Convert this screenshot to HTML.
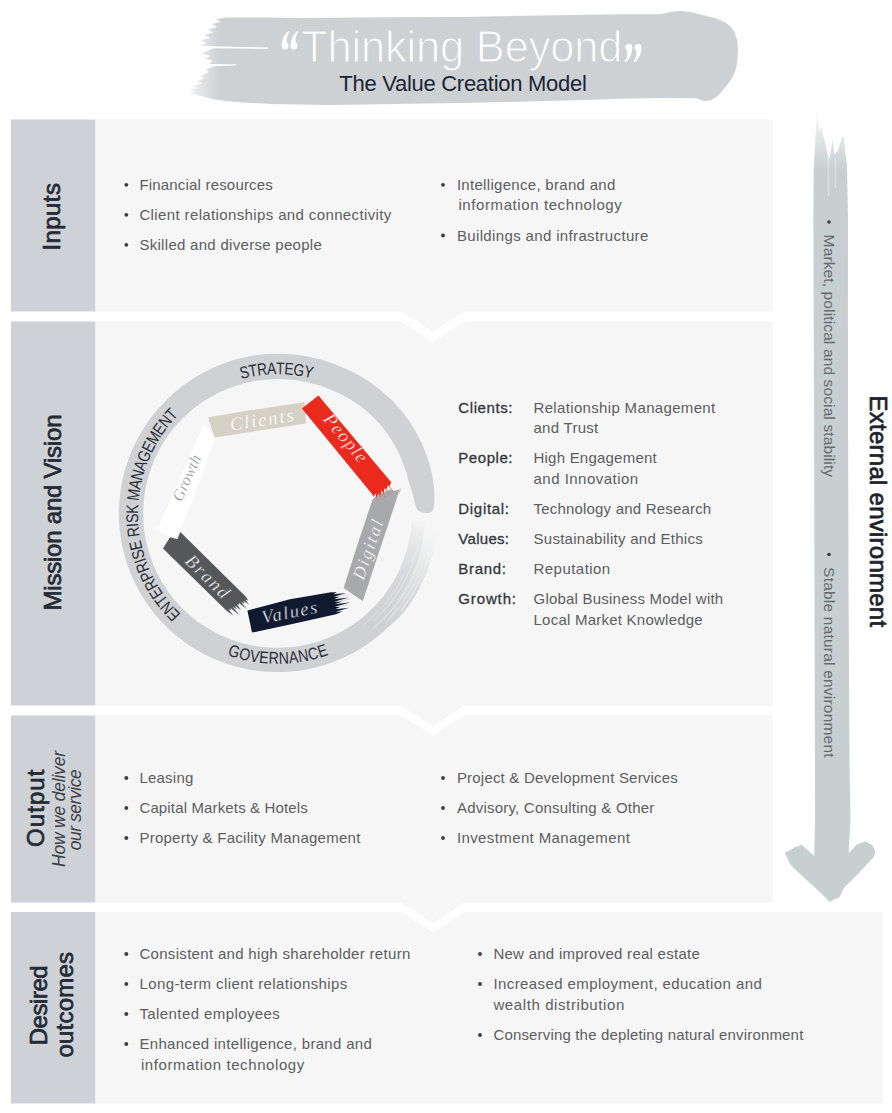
<!DOCTYPE html>
<html><head><meta charset="utf-8"><title>The Value Creation Model</title>
<style>
html,body{margin:0;padding:0;background:#fff;}
body{width:892px;height:1113px;overflow:hidden;font-family:"Liberation Sans",sans-serif;}
svg{display:block;}
svg text{font-family:"Liberation Sans",sans-serif;}
svg text.sf{font-family:"Liberation Serif",serif;}
</style></head><body>
<svg width="892" height="1113" viewBox="0 0 892 1113">
<rect width="892" height="1113" fill="#ffffff"/>
<rect x="11" y="119.5" width="84.5" height="192.0" fill="#ced2d6"/>
<polygon fill="#f6f6f6" points="95.5,119.5 772.5,119.5 772.5,311.5 464.5,311.5 433,332.0 401.5,311.5 95.5,311.5"/>
<rect x="11" y="321.5" width="84.5" height="384.0" fill="#ced2d6"/>
<polygon fill="#f6f6f6" points="95.5,321.5 401.5,321.5 433,342.0 464.5,321.5 772.5,321.5 772.5,705.5 464.5,705.5 433,726.0 401.5,705.5 95.5,705.5"/>
<rect x="11" y="715.5" width="84.5" height="187.0" fill="#ced2d6"/>
<polygon fill="#f6f6f6" points="95.5,715.5 401.5,715.5 433,736.0 464.5,715.5 772.5,715.5 772.5,902.5 464.5,902.5 433,923.0 401.5,902.5 95.5,902.5"/>
<rect x="11" y="912" width="84.5" height="191.5" fill="#ced2d6"/>
<polygon fill="#f6f6f6" points="95.5,912 401.5,912 433,932.5 464.5,912 883,912 883,1103.5 95.5,1103.5"/>
<circle cx="126.3" cy="184.8" r="1.9" fill="#3a3b3f"/>
<text x="139.4" y="189.8" font-size="15" fill="#5c5d61" textLength="133.4" lengthAdjust="spacing" >Financial resources</text>
<circle cx="126.3" cy="214.8" r="1.9" fill="#3a3b3f"/>
<text x="139.4" y="219.8" font-size="15" fill="#5c5d61" textLength="251.9" lengthAdjust="spacing" >Client relationships and connectivity</text>
<circle cx="126.3" cy="244.8" r="1.9" fill="#3a3b3f"/>
<text x="139.4" y="249.8" font-size="15" fill="#5c5d61" textLength="182.4" lengthAdjust="spacing" >Skilled and diverse people</text>
<circle cx="443" cy="184.8" r="1.9" fill="#3a3b3f"/>
<text x="456.9" y="189.8" font-size="15" fill="#5c5d61" textLength="158.4" lengthAdjust="spacing" >Intelligence, brand and</text>
<text x="458.4" y="210.4" font-size="15" fill="#5c5d61" textLength="163.4" lengthAdjust="spacing" >information technology</text>
<circle cx="443" cy="235.5" r="1.9" fill="#3a3b3f"/>
<text x="456.9" y="240.5" font-size="15" fill="#5c5d61" textLength="191.4" lengthAdjust="spacing" >Buildings and infrastructure</text>
<circle cx="126.3" cy="778" r="1.9" fill="#3a3b3f"/>
<text x="139.4" y="783.0" font-size="15" fill="#5c5d61" textLength="53.9" lengthAdjust="spacing" >Leasing</text>
<circle cx="126.3" cy="808" r="1.9" fill="#3a3b3f"/>
<text x="139.4" y="813.0" font-size="15" fill="#5c5d61" textLength="168.4" lengthAdjust="spacing" >Capital Markets &amp; Hotels</text>
<circle cx="126.3" cy="838" r="1.9" fill="#3a3b3f"/>
<text x="139.4" y="843.0" font-size="15" fill="#5c5d61" textLength="220.9" lengthAdjust="spacing" >Property &amp; Facility Management</text>
<circle cx="443" cy="778" r="1.9" fill="#3a3b3f"/>
<text x="456.9" y="783.0" font-size="15" fill="#5c5d61" textLength="220.9" lengthAdjust="spacing" >Project &amp; Development Services</text>
<circle cx="443" cy="808" r="1.9" fill="#3a3b3f"/>
<text x="456.9" y="813.0" font-size="15" fill="#5c5d61" textLength="197.4" lengthAdjust="spacing" >Advisory, Consulting &amp; Other</text>
<circle cx="443" cy="838" r="1.9" fill="#3a3b3f"/>
<text x="456.9" y="843.0" font-size="15" fill="#5c5d61" textLength="172.9" lengthAdjust="spacing" >Investment Management</text>
<circle cx="126.3" cy="954" r="1.9" fill="#3a3b3f"/>
<text x="139.4" y="959.0" font-size="15" fill="#5c5d61" textLength="270.9" lengthAdjust="spacing" >Consistent and high shareholder return</text>
<circle cx="126.3" cy="984" r="1.9" fill="#3a3b3f"/>
<text x="139.4" y="989.0" font-size="15" fill="#5c5d61" textLength="207.9" lengthAdjust="spacing" >Long-term client relationships</text>
<circle cx="126.3" cy="1014" r="1.9" fill="#3a3b3f"/>
<text x="139.4" y="1019.0" font-size="15" fill="#5c5d61" textLength="140.4" lengthAdjust="spacing" >Talented employees</text>
<circle cx="126.3" cy="1044" r="1.9" fill="#3a3b3f"/>
<text x="139.4" y="1049.0" font-size="15" fill="#5c5d61" textLength="232.4" lengthAdjust="spacing" >Enhanced intelligence, brand and</text>
<text x="140.9" y="1069.6" font-size="15" fill="#5c5d61" textLength="163.4" lengthAdjust="spacing" >information technology</text>
<circle cx="480" cy="954" r="1.9" fill="#3a3b3f"/>
<text x="493.4" y="959.0" font-size="15" fill="#5c5d61" textLength="206.4" lengthAdjust="spacing" >New and improved real estate</text>
<circle cx="480" cy="984" r="1.9" fill="#3a3b3f"/>
<text x="493.4" y="989.0" font-size="15" fill="#5c5d61" textLength="268.4" lengthAdjust="spacing" >Increased employment, education and</text>
<text x="493.4" y="1009.6" font-size="15" fill="#5c5d61" textLength="130.9" lengthAdjust="spacing" >wealth distribution</text>
<circle cx="480" cy="1035" r="1.9" fill="#3a3b3f"/>
<text x="493.4" y="1040.0" font-size="15" fill="#5c5d61" textLength="309.9" lengthAdjust="spacing" >Conserving the depleting natural environment</text>
<text x="458.3" y="412.5" font-size="15" fill="#33363c" textLength="54.2" lengthAdjust="spacing" stroke="#33363c" stroke-width="0.3">Clients:</text>
<text x="533.5" y="412.5" font-size="15" fill="#5c5d61" textLength="181.7" lengthAdjust="spacing" >Relationship Management</text>
<text x="533.5" y="433.1" font-size="15" fill="#5c5d61" textLength="64.7" lengthAdjust="spacing" >and Trust</text>
<text x="458.3" y="463" font-size="15" fill="#33363c" textLength="54.2" lengthAdjust="spacing" stroke="#33363c" stroke-width="0.3">People:</text>
<text x="533.5" y="463.0" font-size="15" fill="#5c5d61" textLength="123.2" lengthAdjust="spacing" >High Engagement</text>
<text x="533.5" y="483.6" font-size="15" fill="#5c5d61" textLength="104.7" lengthAdjust="spacing" >and Innovation</text>
<text x="458.3" y="514" font-size="15" fill="#33363c" textLength="50.7" lengthAdjust="spacing" stroke="#33363c" stroke-width="0.3">Digital:</text>
<text x="533.5" y="514.0" font-size="15" fill="#5c5d61" textLength="177.7" lengthAdjust="spacing" >Technology and Research</text>
<text x="458.3" y="544" font-size="15" fill="#33363c" textLength="50.7" lengthAdjust="spacing" stroke="#33363c" stroke-width="0.3">Values:</text>
<text x="533.5" y="544.0" font-size="15" fill="#5c5d61" textLength="169.2" lengthAdjust="spacing" >Sustainability and Ethics</text>
<text x="458.3" y="574" font-size="15" fill="#33363c" textLength="47.7" lengthAdjust="spacing" stroke="#33363c" stroke-width="0.3">Brand:</text>
<text x="533.5" y="574.0" font-size="15" fill="#5c5d61" textLength="76.7" lengthAdjust="spacing" >Reputation</text>
<text x="458.3" y="604" font-size="15" fill="#33363c" textLength="57.7" lengthAdjust="spacing" stroke="#33363c" stroke-width="0.3">Growth:</text>
<text x="533.5" y="604.0" font-size="15" fill="#5c5d61" textLength="189.7" lengthAdjust="spacing" >Global Business Model with</text>
<text x="533.5" y="624.6" font-size="15" fill="#5c5d61" textLength="169.2" lengthAdjust="spacing" >Local Market Knowledge</text>
<polygon fill="#ced1d4" points="225,17.6 270,17.4 300,17.9 380,17.3 460,16.9 540,15.6 620,14.3 659,14.3 665,13.2 672,11.7 681,10.8 692,12.4 704,15.2 716,18.6 725.6,22.4 731,27 734.5,32.3 737,40 738,48.4 737.6,58 736.3,68 733,76 729,82.5 723,90 716.6,96.9 711,100 705.8,101.3 701,100.2 696.9,98.3 660,98 620,98.7 600,99.5 540,101.2 460,103 380,104.2 330,105 270,104 240,102.3 225,101 212,99 205,97 190,93.5 196,91 188,90.2 199,88 193,86.3 202,83.5 197,81.5 204,78 200,76 209,72 206,69.5 214,66.2 236,65.2 236,64.2 209,64 213,61 205,58.5 211,56 202,53.5 208,50.5 213,48.2 268,48.8 268,47.6 212,46.3 200,45.5 207,43 201,40.5 210,38 204,35 213,32.5 208,29.5 217,27 212,24 221,21.5 216,19.5"/>
<text x="301" y="62.2" font-size="43.5" fill="#ffffff" textLength="321.5" lengthAdjust="spacing" stroke="#ced1d4" stroke-width="1.1" paint-order="fill stroke">Thinking Beyond</text>
<path d="M0.1 15.2 C0 8.4 2.7 3.2 7 0 L7.9 1.1 C5.4 4 4.6 7.6 5.3 11.4 C7.2 12.4 7.6 15 6.4 16.9 C4.6 19.5 0.3 18.8 0.1 15.2 Z" fill="#ffffff" transform="translate(281.6 31)"/>
<path d="M0.1 15.2 C0 8.4 2.7 3.2 7 0 L7.9 1.1 C5.4 4 4.6 7.6 5.3 11.4 C7.2 12.4 7.6 15 6.4 16.9 C4.6 19.5 0.3 18.8 0.1 15.2 Z" fill="#ffffff" transform="translate(290.5 31)"/>
<path d="M0.1 15.2 C0 8.4 2.7 3.2 7 0 L7.9 1.1 C5.4 4 4.6 7.6 5.3 11.4 C7.2 12.4 7.6 15 6.4 16.9 C4.6 19.5 0.3 18.8 0.1 15.2 Z" fill="#ffffff" transform="translate(632.4 62.2) rotate(180)"/>
<path d="M0.1 15.2 C0 8.4 2.7 3.2 7 0 L7.9 1.1 C5.4 4 4.6 7.6 5.3 11.4 C7.2 12.4 7.6 15 6.4 16.9 C4.6 19.5 0.3 18.8 0.1 15.2 Z" fill="#ffffff" transform="translate(641.5 62.2) rotate(180)"/>
<text x="339.3" y="91" font-size="22" fill="#1b2433" textLength="247.5" lengthAdjust="spacing" >The Value Creation Model</text>
<text font-size="24" fill="#252b36" transform="translate(60 250.6) rotate(-90)" textLength="67.5" lengthAdjust="spacing" stroke="#252b36" stroke-width="0.7" stroke-linejoin="round">Inputs</text>
<text font-size="24" fill="#252b36" transform="translate(60.5 610.5) rotate(-90)" textLength="196" lengthAdjust="spacing" stroke="#252b36" stroke-width="0.7" stroke-linejoin="round">Mission and Vision</text>
<text font-size="24" fill="#252b36" transform="translate(43.7 847) rotate(-90)" textLength="77.5" lengthAdjust="spacing" stroke="#252b36" stroke-width="0.7" stroke-linejoin="round">Output</text>
<text font-size="17.5" fill="#3c4048" transform="translate(64.7 867) rotate(-90)" textLength="116" lengthAdjust="spacing" font-style="italic" >How we deliver</text>
<text font-size="17.5" fill="#3c4048" transform="translate(81 850.3) rotate(-90)" textLength="81" lengthAdjust="spacing" font-style="italic" >our service</text>
<text font-size="24" fill="#252b36" transform="translate(47 1045.3) rotate(-90)" textLength="80" lengthAdjust="spacing" stroke="#252b36" stroke-width="0.7" stroke-linejoin="round">Desired</text>
<text font-size="24" fill="#252b36" transform="translate(73 1057.5) rotate(-90)" textLength="105.5" lengthAdjust="spacing" stroke="#252b36" stroke-width="0.7" stroke-linejoin="round">outcomes</text>
<polygon fill="#c7cfd1" points="813.4,215 813.8,170 815.3,140 817.2,112 819,131 821,127 823.5,136 826,147 829,160 831,150 832.5,139 834.5,155 838,150 841,141 843.4,135 845,150 847,165 847.9,215 848,400 848.6,600 849.5,760 850.5,820 848.6,853.3 856.4,844.7 865,841.2 872.4,845.3 875.5,852 873.7,857 858.9,873 844,887.8 839.1,897.7 834,899.5 829.9,902 821.9,894 805.8,879.2 791,865.6 784.6,852.7 792.3,849 793.5,848 795.3,846.5 797,846.8 801.5,844.7 814.2,855.8 815.1,820 814.5,600 814,400"/>
<path d="M828.3 150 L828.6 196 M835.2 158 L835.4 188" stroke="#e8ecec" stroke-width="0.8" fill="none"/>
<circle cx="829" cy="222" r="1.8" fill="#3a3d42"/>
<circle cx="829" cy="554.5" r="1.8" fill="#3a3d42"/>
<text font-size="15.5" fill="#666b70" transform="translate(824 234.6) rotate(90)" textLength="242.5" lengthAdjust="spacing" >Market, political and social stability</text>
<text font-size="15.5" fill="#666b70" transform="translate(824 567.1) rotate(90)" textLength="190.5" lengthAdjust="spacing" >Stable natural environment</text>
<text font-size="24" fill="#1d222b" transform="translate(869.5 395.6) rotate(90)" textLength="231.5" lengthAdjust="spacing" stroke="#1d222b" stroke-width="0.7" stroke-linejoin="round">External environment</text>
<path d="M434.1 505.3 L434.3 499.6 L434.2 493.9 L433.9 488.2 L433.4 482.5 L432.5 476.9 L431.4 471.2 L430.0 465.7 L428.3 460.2 L426.4 454.7 L424.3 449.4 L422.1 444.1 L419.6 438.9 L416.9 433.7 L414.0 428.7 L411.0 423.8 L407.7 419.0 L404.3 414.4 L400.7 409.9 L396.8 405.5 L392.9 401.3 L388.7 397.3 L384.4 393.4 L380.0 389.7 L375.4 386.2 L370.7 382.8 L365.9 379.6 L361.0 376.6 L356.0 373.8 L350.9 371.2 L345.7 368.7 L340.4 366.4 L335.0 364.3 L329.6 362.4 L324.2 360.6 L318.6 359.1 L313.0 357.7 L307.4 356.6 L301.8 355.6 L296.1 354.8 L290.4 354.3 L284.6 353.9 L278.9 353.7 L273.1 353.8 L267.4 354.1 L261.7 354.5 L256.0 355.2 L250.3 356.1 L244.7 357.2 L239.1 358.6 L233.6 360.1 L228.1 361.8 L222.7 363.8 L217.4 365.9 L212.1 368.2 L207.0 370.7 L201.9 373.4 L197.0 376.2 L192.1 379.3 L187.4 382.5 L182.8 385.8 L178.3 389.4 L173.9 393.0 L169.7 396.9 L165.6 400.9 L161.6 405.0 L157.8 409.2 L154.2 413.6 L150.7 418.1 L147.3 422.7 L144.2 427.5 L141.2 432.3 L138.4 437.3 L135.7 442.4 L133.3 447.5 L131.0 452.7 L128.9 458.0 L127.0 463.4 L125.3 468.8 L123.8 474.3 L122.5 479.9 L121.4 485.5 L120.5 491.1 L119.8 496.8 L119.3 502.5 L119.0 508.1 L118.9 513.8 L119.0 519.5 L119.3 525.2 L119.9 530.9 L120.6 536.6 L121.5 542.2 L122.6 547.8 L124.0 553.3 L125.5 558.8 L127.2 564.3 L129.2 569.6 L131.3 574.9 L133.6 580.1 L136.1 585.3 L138.7 590.3 L141.6 595.2 L144.6 600.1 L147.8 604.8 L151.2 609.4 L154.7 613.9 L158.4 618.2 L162.2 622.4 L166.2 626.5 L170.3 630.4 L174.6 634.2 L179.0 637.8 L183.6 641.3 L188.2 644.6 L193.0 647.7 L197.9 650.6 L202.8 653.4 L207.9 656.0 L213.1 658.4 L218.3 660.6 L223.7 662.7 L229.0 664.5 L234.5 666.2 L240.0 667.6 L245.6 668.9 L251.2 669.9 L256.8 670.7 L262.5 671.4 L268.2 671.8 L273.9 672.1 L279.6 672.1 L285.3 671.9 L291.0 671.5 L296.6 670.9 L302.3 670.2 L307.9 669.2 L313.5 668.0 L319.0 666.6 L324.5 665.0 L329.9 663.2 L335.2 661.2 L340.5 659.1 L345.7 656.7 L350.8 654.2 L355.8 651.4 L360.7 648.5 L365.5 645.4 L370.2 642.2 L374.8 638.8 L379.2 635.2 L383.5 631.5 L387.7 627.6 L370.8 610.1 L367.3 613.4 L363.6 616.6 L359.9 619.6 L356.0 622.5 L352.0 625.2 L348.0 627.8 L343.8 630.3 L339.6 632.6 L335.2 634.8 L330.8 636.8 L326.4 638.6 L321.9 640.3 L317.3 641.8 L312.6 643.1 L308.0 644.3 L303.2 645.3 L298.5 646.2 L293.7 646.8 L288.9 647.3 L284.1 647.6 L279.3 647.8 L274.4 647.8 L269.6 647.6 L264.8 647.2 L260.0 646.7 L255.2 645.9 L250.5 645.1 L245.8 644.0 L241.1 642.8 L236.5 641.4 L231.9 639.8 L227.4 638.1 L222.9 636.2 L218.6 634.2 L214.3 632.0 L210.1 629.6 L205.9 627.1 L201.9 624.5 L197.9 621.7 L194.1 618.8 L190.4 615.7 L186.8 612.5 L183.3 609.2 L179.9 605.7 L176.6 602.2 L173.5 598.5 L170.5 594.7 L167.7 590.8 L165.0 586.8 L162.4 582.7 L160.0 578.5 L157.7 574.3 L155.6 569.9 L153.7 565.5 L151.9 561.0 L150.3 556.5 L148.8 551.9 L147.5 547.2 L146.4 542.5 L145.4 537.8 L144.6 533.0 L144.0 528.2 L143.6 523.4 L143.3 518.6 L143.2 513.8 L143.3 509.0 L143.5 504.1 L143.9 499.3 L144.5 494.5 L145.3 489.8 L146.2 485.0 L147.4 480.3 L148.6 475.7 L150.1 471.1 L151.7 466.5 L153.4 462.0 L155.4 457.6 L157.5 453.3 L159.7 449.0 L162.1 444.8 L164.6 440.7 L167.3 436.7 L170.2 432.8 L173.1 429.0 L176.2 425.3 L179.5 421.7 L182.8 418.2 L186.3 414.9 L189.9 411.7 L193.6 408.6 L197.5 405.6 L201.4 402.8 L205.4 400.2 L209.5 397.7 L213.8 395.3 L218.0 393.1 L222.4 391.0 L226.8 389.1 L231.3 387.4 L235.9 385.8 L240.5 384.4 L245.2 383.1 L249.9 382.1 L254.6 381.1 L259.4 380.4 L264.2 379.8 L269.0 379.4 L273.8 379.2 L278.7 379.1 L283.5 379.2 L288.3 379.5 L293.1 380.0 L297.9 380.6 L302.7 381.4 L307.4 382.3 L312.1 383.4 L316.8 384.7 L321.4 386.1 L326.0 387.7 L330.5 389.5 L335.0 391.4 L339.4 393.4 L343.7 395.7 L348.0 398.0 L352.1 400.6 L356.2 403.2 L360.1 406.1 L364.0 409.1 L367.7 412.2 L371.4 415.5 L374.8 418.9 L378.2 422.4 L381.4 426.1 L384.5 429.9 L387.4 433.8 L390.2 437.8 L392.8 441.9 L395.2 446.2 L397.5 450.5 L399.6 454.9 L401.5 459.3 L403.3 463.8 L404.9 468.4 L406.4 473.1 L407.7 477.7 L409.1 482.4 L410.6 487.1 L412.0 491.8 L413.3 496.5 L414.5 501.4 L415.7 506.3 C417.2 513.3 429.1 515.3 432.5 510.8 Q433.9 508.3 434.1 505.3 Z" fill="#cfd1d5"/>
<defs><linearGradient id="ti" gradientUnits="userSpaceOnUse" x1="381.8" y1="617.8" x2="424.6" y2="523.8"><stop offset="0" stop-color="#cfd1d5" stop-opacity="1"/><stop offset="0.12" stop-color="#cfd1d5" stop-opacity="0.95"/><stop offset="0.45" stop-color="#cfd1d5" stop-opacity="0.8"/><stop offset="0.68" stop-color="#cfd1d5" stop-opacity="0.58"/><stop offset="0.9" stop-color="#cfd1d5" stop-opacity="0.25"/><stop offset="1" stop-color="#cfd1d5" stop-opacity="0.05"/></linearGradient><linearGradient id="to" gradientUnits="userSpaceOnUse" x1="381.8" y1="617.8" x2="424.6" y2="523.8"><stop offset="0" stop-color="#cfd1d5" stop-opacity="1"/><stop offset="0.12" stop-color="#cfd1d5" stop-opacity="0.9"/><stop offset="0.45" stop-color="#cfd1d5" stop-opacity="0.62"/><stop offset="0.68" stop-color="#cfd1d5" stop-opacity="0.3"/><stop offset="0.86" stop-color="#cfd1d5" stop-opacity="0.08"/><stop offset="1" stop-color="#cfd1d5" stop-opacity="0"/></linearGradient></defs>
<polygon fill="url(#ti)" points="379.7,620.0 381.7,618.1 383.6,616.1 385.5,614.1 387.4,612.0 389.2,609.9 391.0,607.8 392.8,605.7 394.5,603.5 396.2,601.3 397.8,599.0 399.4,596.7 400.9,594.4 402.5,592.1 403.9,589.7 405.3,587.3 406.7,584.9 408.0,582.4 409.3,580.0 410.5,577.5 411.7,574.9 412.8,572.4 413.9,569.8 415.0,567.3 416.0,564.7 416.9,562.0 417.8,559.4 418.6,556.8 419.4,554.1 420.2,551.4 420.8,548.7 421.5,546.0 422.1,543.3 422.6,540.5 423.1,537.8 423.5,535.1 423.9,532.3 424.2,529.5 424.5,526.8 424.7,524.0 424.9,521.2 411.6,520.5 411.5,523.1 411.3,525.6 411.0,528.1 410.7,530.6 410.4,533.1 410.0,535.6 409.5,538.1 409.0,540.6 408.5,543.1 407.9,545.5 407.3,548.0 406.6,550.4 405.9,552.9 405.1,555.3 404.3,557.7 403.5,560.0 402.6,562.4 401.6,564.8 400.6,567.1 399.6,569.4 398.5,571.7 397.4,574.0 396.3,576.2 395.1,578.4 393.8,580.6 392.5,582.8 391.2,585.0 389.8,587.1 388.4,589.2 387.0,591.3 385.5,593.3 384.0,595.4 382.4,597.4 380.8,599.3 379.2,601.3 377.5,603.2 375.8,605.0 374.0,606.9 372.3,608.7 370.5,610.4"/>
<polygon fill="url(#to)" points="387.3,628.0 389.4,626.2 391.5,624.3 393.6,622.5 395.7,620.6 397.7,618.6 399.7,616.7 401.7,614.6 403.6,612.6 405.3,610.4 407.0,608.1 408.7,605.8 410.3,603.5 411.8,601.2 413.3,598.8 414.8,596.4 416.2,594.0 417.6,591.5 419.0,589.1 420.3,586.6 421.5,584.1 422.8,581.5 423.9,579.0 425.1,576.4 426.1,573.8 427.2,571.2 428.2,568.5 429.1,565.9 430.0,563.2 430.8,560.5 431.6,557.8 432.4,555.1 433.1,552.4 433.8,549.7 434.4,546.9 434.9,544.2 435.5,541.4 435.9,538.6 436.3,535.9 436.7,533.1 437.0,530.3 424.1,528.9 423.8,531.5 423.5,534.0 423.1,536.6 422.7,539.1 422.2,541.7 421.7,544.2 421.1,546.7 420.5,549.3 419.8,551.8 419.2,554.3 418.4,556.7 417.6,559.2 416.8,561.6 415.9,564.1 415.0,566.5 414.1,568.9 413.1,571.3 412.1,573.7 411.0,576.0 409.9,578.3 408.7,580.7 407.5,582.9 406.3,585.2 405.0,587.5 403.7,589.7 402.3,591.9 400.9,594.1 399.5,596.2 398.0,598.4 396.5,600.5 395.0,602.5 393.4,604.6 391.8,606.6 390.1,608.6 388.4,610.5 386.7,612.5 385.0,614.4 383.2,616.2 381.4,618.1 379.5,619.9"/>
<path d="M364.0 624.2 A140.5 140.5 0 0 0 403.8 575.1" stroke="#eeeeef" stroke-width="0.9" fill="none" stroke-opacity="0.55" stroke-linecap="round"/>
<path d="M374.0 620.7 A144.2 144.2 0 0 0 417.4 548.4" stroke="#f1f1f2" stroke-width="1.0" fill="none" stroke-opacity="0.6" stroke-linecap="round"/>
<path d="M373.6 628.0 A149.5 149.5 0 0 0 418.0 564.6" stroke="#eeeeef" stroke-width="1.1" fill="none" stroke-opacity="0.6" stroke-linecap="round"/>
<path d="M387.9 620.1 A153.5 153.5 0 0 0 425.1 555.8" stroke="#f1f1f2" stroke-width="1.0" fill="none" stroke-opacity="0.55" stroke-linecap="round"/>
<path d="M401.2 610.2 A157 157 0 0 0 431.1 546.1" stroke="#f3f3f3" stroke-width="1.2" fill="none" stroke-opacity="0.5" stroke-linecap="round"/>
<text text-anchor="middle" font-size="17" fill="#2b2e35" transform="translate(245.71 377.88) rotate(346.81) scale(0.809 1)">S</text>
<text text-anchor="middle" font-size="17" fill="#2b2e35" transform="translate(253.95 376.20) rotate(350.27) scale(0.809 1)">T</text>
<text text-anchor="middle" font-size="17" fill="#2b2e35" transform="translate(262.65 374.99) rotate(353.88) scale(0.809 1)">R</text>
<text text-anchor="middle" font-size="17" fill="#2b2e35" transform="translate(271.77 374.32) rotate(357.64) scale(0.809 1)">A</text>
<text text-anchor="middle" font-size="17" fill="#2b2e35" transform="translate(280.18 374.23) rotate(361.10) scale(0.809 1)">T</text>
<text text-anchor="middle" font-size="17" fill="#2b2e35" transform="translate(288.59 374.64) rotate(364.57) scale(0.809 1)">E</text>
<text text-anchor="middle" font-size="17" fill="#2b2e35" transform="translate(298.04 375.72) rotate(368.48) scale(0.809 1)">G</text>
<text text-anchor="middle" font-size="17" fill="#2b2e35" transform="translate(307.40 377.45) rotate(372.39) scale(0.809 1)">Y</text>
<text text-anchor="middle" font-size="17" fill="#2b2e35" transform="translate(177.75 611.02) rotate(225.65) scale(0.827 1)">E</text>
<text text-anchor="middle" font-size="17" fill="#2b2e35" transform="translate(171.44 604.12) rotate(229.49) scale(0.827 1)">N</text>
<text text-anchor="middle" font-size="17" fill="#2b2e35" transform="translate(165.83 597.11) rotate(233.18) scale(0.827 1)">T</text>
<text text-anchor="middle" font-size="17" fill="#2b2e35" transform="translate(160.89 590.07) rotate(236.71) scale(0.827 1)">E</text>
<text text-anchor="middle" font-size="17" fill="#2b2e35" transform="translate(156.02 582.08) rotate(240.55) scale(0.827 1)">R</text>
<text text-anchor="middle" font-size="17" fill="#2b2e35" transform="translate(151.70 573.78) rotate(244.40) scale(0.827 1)">P</text>
<text text-anchor="middle" font-size="17" fill="#2b2e35" transform="translate(147.94 565.21) rotate(248.24) scale(0.827 1)">R</text>
<text text-anchor="middle" font-size="17" fill="#2b2e35" transform="translate(145.59 558.90) rotate(251.01) scale(0.827 1)">I</text>
<text text-anchor="middle" font-size="17" fill="#2b2e35" transform="translate(143.66 552.84) rotate(253.62) scale(0.827 1)">S</text>
<text text-anchor="middle" font-size="17" fill="#2b2e35" transform="translate(141.41 544.14) rotate(257.31) scale(0.827 1)">E</text>
<text text-anchor="middle" font-size="17" fill="#2b2e35" transform="translate(139.13 531.25) rotate(262.69) scale(0.827 1)">R</text>
<text text-anchor="middle" font-size="17" fill="#2b2e35" transform="translate(138.44 524.55) rotate(265.46) scale(0.827 1)">I</text>
<text text-anchor="middle" font-size="17" fill="#2b2e35" transform="translate(138.08 518.19) rotate(268.07) scale(0.827 1)">S</text>
<text text-anchor="middle" font-size="17" fill="#2b2e35" transform="translate(138.07 509.21) rotate(271.76) scale(0.827 1)">K</text>
<text text-anchor="middle" font-size="17" fill="#2b2e35" transform="translate(139.18 495.41) rotate(277.45) scale(0.827 1)">M</text>
<text text-anchor="middle" font-size="17" fill="#2b2e35" transform="translate(140.85 485.45) rotate(281.60) scale(0.827 1)">A</text>
<text text-anchor="middle" font-size="17" fill="#2b2e35" transform="translate(143.04 476.36) rotate(285.44) scale(0.827 1)">N</text>
<text text-anchor="middle" font-size="17" fill="#2b2e35" transform="translate(145.83 467.43) rotate(289.29) scale(0.827 1)">A</text>
<text text-anchor="middle" font-size="17" fill="#2b2e35" transform="translate(149.36 458.36) rotate(293.28) scale(0.827 1)">G</text>
<text text-anchor="middle" font-size="17" fill="#2b2e35" transform="translate(153.52 449.56) rotate(297.28) scale(0.827 1)">E</text>
<text text-anchor="middle" font-size="17" fill="#2b2e35" transform="translate(158.47 440.76) rotate(301.43) scale(0.827 1)">M</text>
<text text-anchor="middle" font-size="17" fill="#2b2e35" transform="translate(164.04 432.33) rotate(305.58) scale(0.827 1)">E</text>
<text text-anchor="middle" font-size="17" fill="#2b2e35" transform="translate(169.74 424.91) rotate(309.42) scale(0.827 1)">N</text>
<text text-anchor="middle" font-size="17" fill="#2b2e35" transform="translate(175.66 418.17) rotate(313.11) scale(0.827 1)">T</text>
<text text-anchor="middle" font-size="17" fill="#2b2e35" transform="translate(232.58 656.93) rotate(17.39) scale(0.830 1)">G</text>
<text text-anchor="middle" font-size="17" fill="#2b2e35" transform="translate(243.51 659.91) rotate(13.07) scale(0.830 1)">O</text>
<text text-anchor="middle" font-size="17" fill="#2b2e35" transform="translate(253.84 661.93) rotate(9.06) scale(0.830 1)">V</text>
<text text-anchor="middle" font-size="17" fill="#2b2e35" transform="translate(263.48 663.14) rotate(5.35) scale(0.830 1)">E</text>
<text text-anchor="middle" font-size="17" fill="#2b2e35" transform="translate(273.58 663.75) rotate(1.50) scale(0.830 1)">R</text>
<text text-anchor="middle" font-size="17" fill="#2b2e35" transform="translate(284.09 663.66) rotate(-2.51) scale(0.830 1)">N</text>
<text text-anchor="middle" font-size="17" fill="#2b2e35" transform="translate(294.18 662.87) rotate(-6.37) scale(0.830 1)">A</text>
<text text-anchor="middle" font-size="17" fill="#2b2e35" transform="translate(304.19 661.41) rotate(-10.23) scale(0.830 1)">N</text>
<text text-anchor="middle" font-size="17" fill="#2b2e35" transform="translate(314.47 659.18) rotate(-14.24) scale(0.830 1)">C</text>
<text text-anchor="middle" font-size="17" fill="#2b2e35" transform="translate(324.19 656.36) rotate(-18.10) scale(0.830 1)">E</text>
<polygon fill="#ffffff" points="203.2,425.6 209.0,428.5 215.0,438.4 199.8,480.9 180.3,531.0 177.3,538.0 162.5,533.3 157.4,529.4 178.8,480.9"/>
<polygon fill="#d5d2c5" points="208.3,417.2 250.0,410.3 296.0,403.5 304.5,402.3 306.0,423.5 260.0,430.6 214.6,437.6 211.0,427.0"/>
<polygon fill="#a7a9ac" points="372.5,499.5 378.0,494.0 384.0,492.0 390.0,489.5 394.0,491.0 399.3,489.6 397.3,497.0 380.0,549.0 362.8,601.0 353.0,594.5 343.6,588.0 358.0,543.0"/>
<polygon fill="#a7a9ac" fill-opacity="0.6" points="399.3,489.6 401.5,487.5 399.8,493.0 398.6,495.5"/>
<polygon fill="#ea2a1c" points="318.4,395.5 301.9,408.6 372.0,494.0 373.5,496.8 375.2,493.5 376.5,497.5 378.3,493.0 380.0,496.0 381.6,490.5 383.3,493.5 384.8,488.0 386.4,490.0 387.8,485.2 389.5,486.8 391.2,482.2"/>
<path d="M376.5 497.5 L378 500.5 M380 496 L381.8 499.5 M383.3 493.5 L385.5 497.5 M386.4 490 L388.8 494 M389.5 486.8 L392.5 491" stroke="#e8766c" stroke-width="1.1" stroke-opacity="0.75" fill="none" stroke-linecap="round"/>
<polygon fill="#56575b" points="180.3,532.0 177.3,539.3 170.0,537.3 163.0,548.5 226.3,610.4 233.4,615.7 228.4,609.1 231.2,610.3 230.5,607.9 239.8,615.4 232.6,606.7 236.9,609.3 234.7,605.5 241.1,610.2 236.9,604.3 239.0,604.8 239.0,603.1 246.8,609.2 241.1,601.9 244.7,603.7 243.2,600.7 248.9,604.6 245.3,599.5 248.2,600.6 246.4,597.2"/>
<polygon fill="#0f1a30" points="247.4,610.4 252.0,632.6 290.0,624.5 336.0,614.2 342.7,611.6 335.6,611.7 349.2,607.7 335.3,609.2 340.0,607.0 335.0,606.7 350.5,602.3 334.6,604.2 342.3,601.4 334.3,601.8 348.8,597.5 334.0,599.3 339.7,596.8 333.6,596.8 346.2,592.9 333.3,594.3 337.0,592.2 331.0,592.2 290.0,599.3"/>
<path d="M338 596.5 L349 594.6 M337 601.5 L350 599.2 M339 606.4 L348 604.8" stroke="#c9ccd2" stroke-width="0.9" stroke-opacity="0.8" fill="none"/>
<text class="sf" font-style="italic" font-size="18.5" fill="#ffffff" transform="translate(231 430.8) rotate(-8.8)" textLength="64" lengthAdjust="spacing" stroke="#d5d2c5" stroke-width="0.25" paint-order="fill stroke">Clients</text>
<text class="sf" font-style="italic" font-size="18.5" fill="#ffffff" transform="translate(322.5 419.5) rotate(50.3)" textLength="58" lengthAdjust="spacing" stroke="#ea2a1c" stroke-width="0.35" paint-order="fill stroke">People</text>
<text class="sf" font-style="italic" font-size="18" fill="#ffffff" transform="translate(363.5 581) rotate(-71)" textLength="62" lengthAdjust="spacing" stroke="#a7a9ac" stroke-width="0.3" paint-order="fill stroke">Digital</text>
<text class="sf" font-style="italic" font-size="18.5" fill="#ffffff" transform="translate(263 623.5) rotate(-11)" textLength="56" lengthAdjust="spacing" stroke="#0f1a30" stroke-width="0.4" paint-order="fill stroke">Values</text>
<text class="sf" font-style="italic" font-size="18.5" fill="#ffffff" transform="translate(184 562) rotate(44.5)" textLength="54" lengthAdjust="spacing" stroke="#56575b" stroke-width="0.35" paint-order="fill stroke">Brand</text>
<text class="sf" font-style="italic" font-size="16" fill="#85868a" transform="translate(181.5 502.5) rotate(-66)" textLength="49" lengthAdjust="spacing" stroke="#ffffff" stroke-width="0.3" paint-order="fill stroke">Growth</text>
<defs><linearGradient id="fa" x1="0" y1="0" x2="0" y2="1"><stop offset="0" stop-color="#fff" stop-opacity="0.9"/><stop offset="0.5" stop-color="#fff" stop-opacity="0.45"/><stop offset="1" stop-color="#fff" stop-opacity="0"/></linearGradient><linearGradient id="fh" x1="0" y1="0" x2="1" y2="0"><stop offset="0" stop-color="#fff" stop-opacity="0.75"/><stop offset="1" stop-color="#fff" stop-opacity="0"/></linearGradient></defs>
<rect x="811" y="108" width="40" height="62" fill="url(#fa)"/>
<rect x="186" y="14" width="34" height="90" fill="url(#fh)"/>
</svg>
</body></html>
